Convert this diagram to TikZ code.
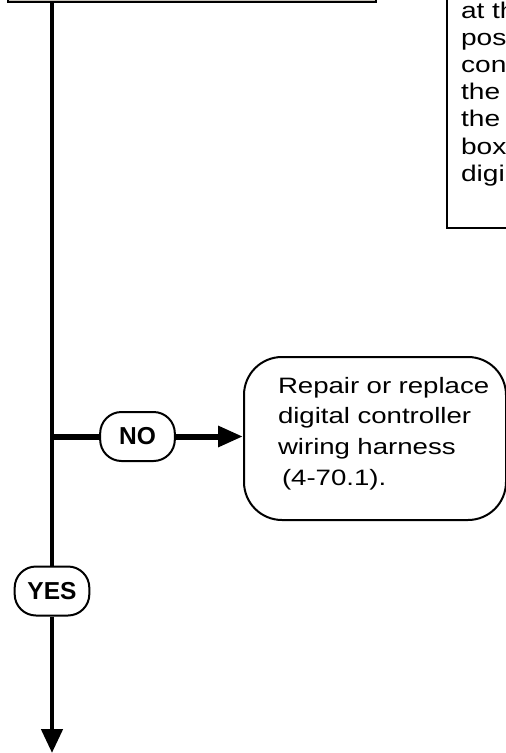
\documentclass[tikz,border=0pt]{standalone}
\usepackage{fontspec}
\setmainfont{Liberation Sans}
\newfontfamily\bodyfont{Liberation Sans}[FakeStretch=1.24]
\usetikzlibrary{positioning,arrows.meta,calc}
\definecolor{boxfill}{HTML}{C8C4BC}
\hyphenpenalty=10000
\exhyphenpenalty=10000

\begin{document}
\begin{tikzpicture}[x=0.75pt,y=-0.75pt,
          flow/.style={line width=3.5pt},
          pill/.style={draw,line width=1.5pt,rounded corners=16pt,minimum width=56pt,minimum height=36.75pt,inner sep=0pt,
            font=\bfseries\fontsize{18.4pt}{20pt}\selectfont},
          checkbox/.style={draw,fill=boxfill,line width=1.6pt,minimum width=276pt,minimum height=45pt,inner sep=0pt},
          notebox/.style={draw,line width=1.6pt,align=left,text width=45pt,inner xsep=10.5pt,inner ysep=31.5pt,
            font=\bodyfont\fontsize{17pt}{20.4pt}\selectfont},
          repairbox/.style={draw,line width=1.5pt,rounded corners=28.5pt,align=left,text width=145.5pt,inner xsep=25.5pt,
            text depth=80.3pt,minimum width=196.5pt,minimum height=122.25pt,font=\bodyfont\fontsize{16.7pt}{23.1pt}\selectfont}]
        \useasboundingbox (0,0) rectangle (506,753);
        \node[checkbox,anchor=south west] (check) at (7,3) {};
        \node[notebox,anchor=south west]  (note)  at (446,229) {at~th\\pos\\con\\the\\the\\box\\digi};
        \node[pill] (no)  at (137.5,436.5) {NO};
        \node[pill] (yes) at (52,591) {YES};
        \node[repairbox,anchor=west] (repair) at (243,438.5)
          {Repair~or~replace\\digital~controller\\wiring~harness\\\hspace*{3pt}(4-70.1).};
        \coordinate (branch) at (52,436.5);
        \coordinate (exit)   at (52,753);
        \draw[flow] (check.south -| branch) -- (yes.north);
        \draw[flow,-{Triangle[length=18pt,width=15.75pt]}] (yes.south) -- (exit);
        \draw[flow,line width=4.5pt] (branch) -- (no.west);
        \draw[flow,line width=4.5pt,-{Triangle[length=18.75pt,width=15pt]}] (no.east) -- (no.east -| repair.west);
      \end{tikzpicture}
\end{document}
